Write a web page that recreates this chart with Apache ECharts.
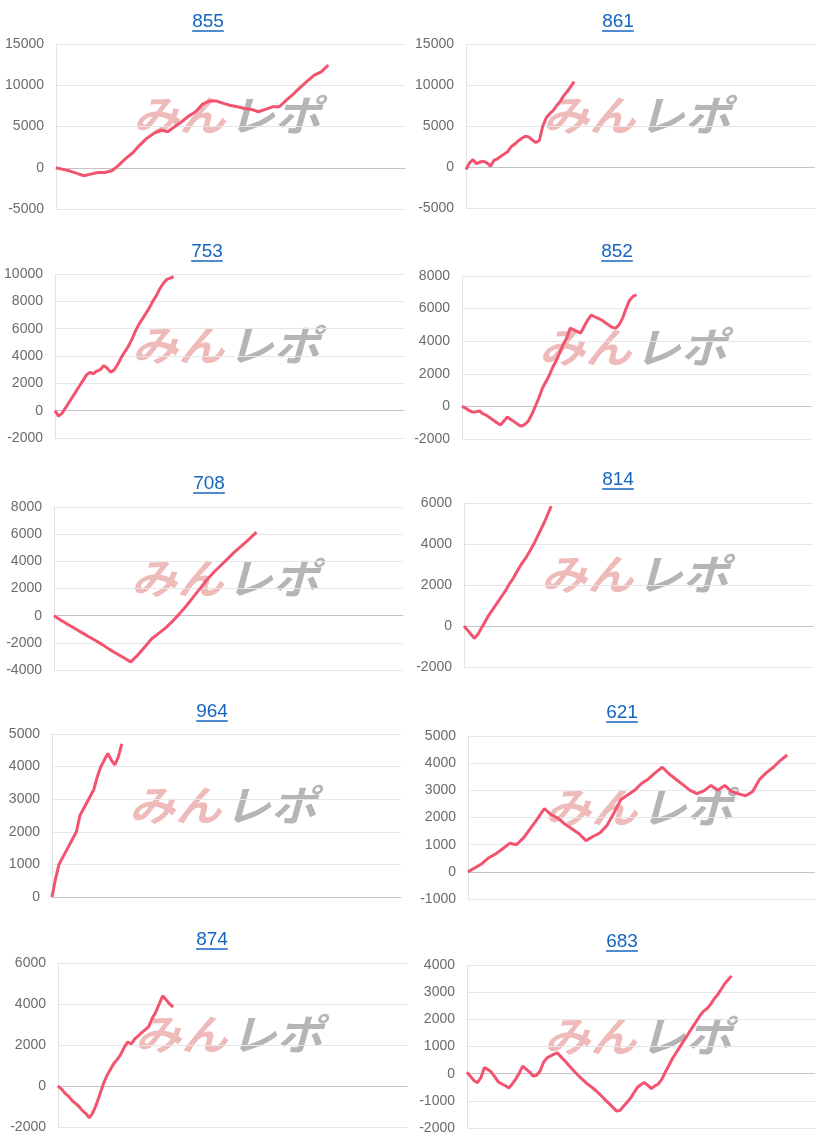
<!DOCTYPE html>
<html>
<head>
<meta charset="utf-8">
<script src="https://cdn.jsdelivr.net/npm/echarts@6/dist/echarts.min.js"></script>
<style>
html,body{margin:0;padding:0;background:#fff;}
#c{width:815px;height:1145px;}
</style>
</head>
<body>
<div id="c"></div>
<script>
// ---- data ----
const titles = ['855','861','753','852','708','814','964','621','874','683'];
const s855 = [0,-200,-400,-690,-970,-770,-570,-570,-360,320,1130,1820,2750,3560,4160,4570,4360,4970,5580,6260,6790,7720,8080,8080,7800,7550,7390,7190,7070,6790,7070,7390,7390,8200,8930,9740,10500,11230,11630,12440];
const s861 = [-300,500,900,400,600,700,500,100,800,1000,1300,1600,1900,2500,2800,3200,3500,3750,3650,3300,3000,3200,5000,6000,6500,6900,7500,8000,8700,9200,9800,10400];
const s753 = [0,-400,-200,200,600,1000,1400,1800,2200,2600,2800,2700,2900,3000,3300,3100,2800,3000,3400,3900,4300,4700,5200,5800,6300,6700,7100,7500,8000,8400,8900,9300,9600,9700,9800];
const s852 = [0,-100,-250,-350,-330,-280,-450,-550,-700,-850,-1000,-1150,-900,-650,-800,-950,-1100,-1220,-1100,-900,-500,0,500,1100,1500,1900,2400,2800,3300,3800,4200,4800,4700,4600,4500,4900,5300,5600,5500,5400,5300,5150,5000,4850,4800,5000,5400,6000,6500,6750,6850];
const s708 = [0,-330,-650,-950,-1250,-1550,-1850,-2150,-2500,-2800,-3100,-3400,-2900,-2300,-1700,-1300,-900,-400,150,750,1400,2050,2700,3250,3750,4250,4750,5200,5650,6150];
const s814 = [0,-200,-400,-600,-400,-100,200,500,750,1000,1250,1500,1750,2050,2300,2600,2900,3150,3400,3700,4000,4350,4700,5050,5450,5850];
const s964 = [0,550,1000,1200,1400,1600,1800,2000,2500,2700,2900,3100,3300,3700,4000,4200,4400,4200,4050,4300,4700];
const s621 = [0,150,300,520,660,850,1050,1000,1250,1600,1950,2330,2100,1970,1750,1580,1400,1150,1300,1430,1700,2150,2650,2830,3000,3250,3420,3650,3850,3600,3400,3200,3000,2880,2980,3180,3000,3180,2950,2870,2800,2950,3400,3650,3850,4100,4300];
const s874 = [0,-150,-350,-500,-700,-850,-1000,-1200,-1350,-1550,-1300,-900,-400,100,500,800,1100,1300,1550,1900,2150,2050,2300,2450,2600,2750,2900,3300,3600,4000,4400,4200,4000,3850];
const s683 = [50,-100,-250,-330,-150,230,150,60,-120,-300,-380,-440,-530,-380,-200,20,280,170,60,-90,-60,100,420,580,650,720,760,620,490,350,200,60,-70,-190,-310,-420,-510,-620,-740,-870,-1000,-1120,-1250,-1380,-1350,-1200,-1050,-900,-700,-500,-400,-330,-430,-550,-450,-380,-200,60,300,550,750,950,1150,1350,1550,1750,1950,2150,2300,2400,2550,2750,2900,3100,3300,3450,3600];
const values = [s855,s861,s753,s852,s708,s814,s964,s621,s874,s683];
const xSteps = [2,1,1,1,2,1,1,2,1,1];       // x spacing between samples (x axis runs 0..100)
const yMins  = [-5000,-5000,-2000,-2000,-4000,-2000,0,-1000,-2000,-2000];
const yMaxs  = [15000,15000,10000,8000,8000,6000,5000,5000,6000,4000];
const yIntervals = [5000,5000,2000,2000,2000,2000,1000,1000,2000,1000];

// ---- layout (pixels) ----
const layout = [
  {left:56, top:44,  h:165, tx:208, ty:22},
  {left:466,top:44,  h:164, tx:618, ty:22},
  {left:55, top:274, h:164, tx:207, ty:252},
  {left:462,top:276, h:163, tx:617, ty:252},
  {left:54, top:507, h:163, tx:209, ty:484},
  {left:464,top:503, h:164, tx:618, ty:480},
  {left:52, top:734, h:163, tx:212, ty:712},
  {left:468,top:736, h:163, tx:622, ty:713},
  {left:58, top:963, h:164, tx:212, ty:940},
  {left:467,top:965, h:163, tx:622, ty:942}
];
const PLOT_W = 349;
const LINE_COLOR = '#f2536f';
const TITLE_COLOR = '#1565c0';
const TITLE_SIZE = 19;

const grids=[], xAxes=[], yAxes=[], series=[], graphics=[];
values.forEach((vals,i)=>{
  const L = layout[i];
  grids.push({left:L.left, top:L.top, width:PLOT_W, height:L.h, containLabel:false});
  xAxes.push({gridIndex:i, type:'value', min:0, max:100, show:true,
    axisLine:{show:true, onZero:true, lineStyle:{color:'#c4c4c4', width:1}},
    axisTick:{show:false}, axisLabel:{show:false}, splitLine:{show:false}});
  yAxes.push({gridIndex:i, type:'value', min:yMins[i], max:yMaxs[i], interval:yIntervals[i],
    axisLine:{show:true, lineStyle:{color:'#e3e3e3'}},
    axisTick:{show:false},
    axisLabel:{color:'#6b6b6b', fontSize:14, fontFamily:'Liberation Sans, Arial, sans-serif', margin:12,
      formatter:(v)=>String(v)},
    splitLine:{show:true, lineStyle:{color:'#e6e6e6', width:1}}});
  series.push({type:'line', xAxisIndex:i, yAxisIndex:i, showSymbol:false, z:5,
    lineStyle:{color:LINE_COLOR, width:3}, itemStyle:{color:LINE_COLOR},
    data: vals.map((v,k)=>[k*xSteps[i], v])});
  // title + underline
  graphics.push({type:'text', x:L.tx, y:L.ty, silent:true,
    style:{text:titles[i], fill:TITLE_COLOR, font:TITLE_SIZE+'px "Liberation Sans", Arial, sans-serif',
      textAlign:'center', textVerticalAlign:'middle'}});
  const hw = titles[i].length*0.556*TITLE_SIZE/2;
  graphics.push({type:'line', silent:true,
    shape:{x1:L.tx-hw, y1:L.ty+9, x2:L.tx+hw, y2:L.ty+9},
    style:{stroke:TITLE_COLOR, lineWidth:1.5}});
  // watermark
  const cx = L.left + PLOT_W/2 - 2, cy = L.top + 71;
  graphics.push({type:'text', x:cx-3, y:cy, z:-10, silent:true, scaleX:1.1,
    style:{text:'みん', fill:'rgba(214,90,90,0.42)', font:'italic bold 42px "Noto Sans CJK JP", sans-serif',
      textAlign:'right', textVerticalAlign:'middle'}});
  graphics.push({type:'text', x:cx, y:cy, z:-10, silent:true, scaleX:1.1,
    style:{text:'レポ', fill:'rgba(150,150,150,0.7)', font:'italic bold 42px "Noto Sans CJK JP", sans-serif',
      textAlign:'left', textVerticalAlign:'middle'}});
});

const chart = echarts.init(document.getElementById('c'), null, {renderer:'canvas'});
chart.setOption({
  animation:false,
  backgroundColor:'#ffffff',
  grid:grids, xAxis:xAxes, yAxis:yAxes, series:series,
  graphic:{elements:graphics}
});
</script>
</body>
</html>
